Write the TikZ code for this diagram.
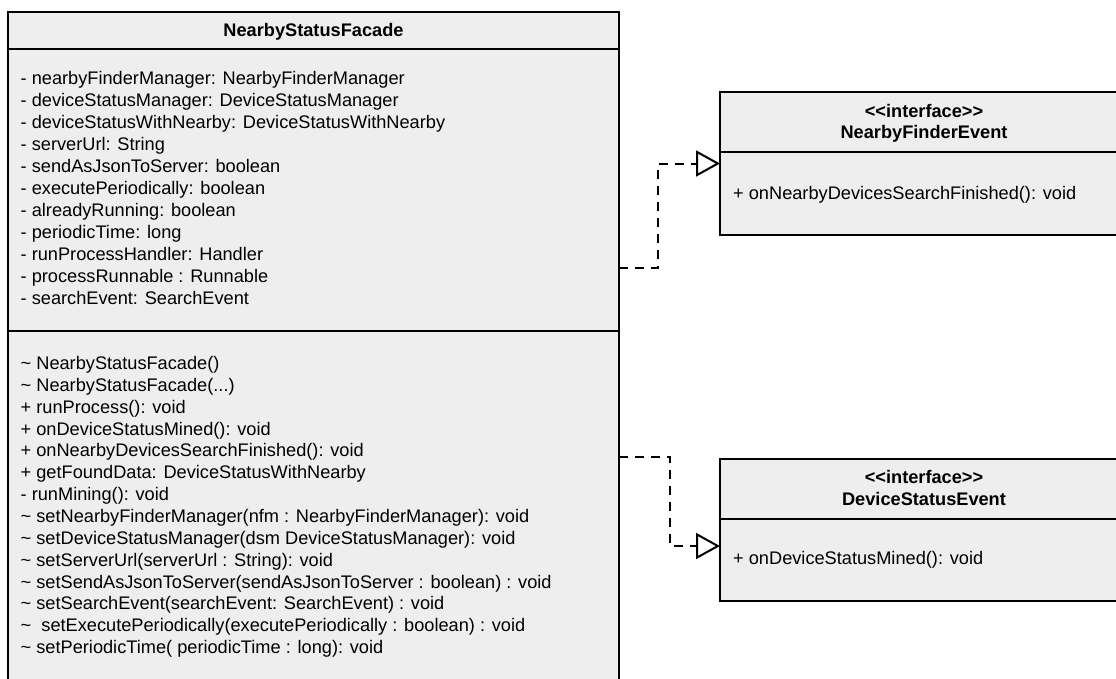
\documentclass[tikz,border=0pt]{standalone}
\usepackage{fontspec}
\setmainfont{Liberation Sans}
\usetikzlibrary{arrows.meta}
\definecolor{boxfill}{HTML}{EEEEEE}
\newcommand\argsdots{...}
\tikzset{
  umlbox/.style={draw=black, fill=boxfill, line width=1.9pt, rectangle,
    inner sep=0pt, outer sep=0pt, anchor=north west},
  member/.style={anchor=base west, inner sep=0pt,
    font=\fontsize{18.2}{22}\selectfont},
  title/.style={anchor=base, inner sep=0pt,
    font=\fontsize{18.2}{22}\selectfont\bfseries},
  divider/.style={draw=black, line width=1.9pt},
  realize/.style={draw=black, line width=2pt, dash pattern=on 9pt off 7pt,
    -{Triangle[open, length=24pt, width=26pt, line width=2pt]}}
}
\begin{document}
\begin{tikzpicture}[x=1pt,y=-1pt]
\useasboundingbox (0,0) rectangle (1116,678);
\clip (0,0) rectangle (1116,678);

% class NearbyStatusFacade
\node[umlbox, minimum width=611pt, minimum height=700pt] (facade) at (8,12) {};
\draw[divider] (facade.west |- 0,49) -- (facade.east |- 0,49);
\draw[divider] (facade.west |- 0,331) -- (facade.east |- 0,331);
\node[title] (facadeName) at (313.5,36) {NearbyStatusFacade};

\foreach \t [count=\i from 0] in {
  {- nearbyFinderManager: NearbyFinderManager},
  {- deviceStatusManager: DeviceStatusManager},
  {- deviceStatusWithNearby: DeviceStatusWithNearby},
  {- serverUrl: String},
  {- sendAsJsonToServer: boolean},
  {- executePeriodically: boolean},
  {- alreadyRunning: boolean},
  {- periodicTime: long},
  {- runProcessHandler: Handler},
  {- processRunnable : Runnable},
  {- searchEvent: SearchEvent}}
  \node[member] (attr\i) at (20.5,{84+22*\i}) {\t};

\foreach \t [count=\i from 0] in {
  {\textasciitilde\ NearbyStatusFacade()},
  {\textasciitilde\ NearbyStatusFacade(\argsdots)},
  {+ runProcess(): void},
  {+ onDeviceStatusMined(): void},
  {+ onNearbyDevicesSearchFinished(): void},
  {+ getFoundData: DeviceStatusWithNearby},
  {- runMining(): void},
  {\textasciitilde\ setNearbyFinderManager(nfm : NearbyFinderManager): void},
  {\textasciitilde\ setDeviceStatusManager(dsm DeviceStatusManager): void},
  {\textasciitilde\ setServerUrl(serverUrl : String): void},
  {\textasciitilde\ setSendAsJsonToServer(sendAsJsonToServer : boolean) : void},
  {\textasciitilde\ setSearchEvent(searchEvent: SearchEvent) : void},
  {\textasciitilde\ \ setExecutePeriodically(executePeriodically : boolean) : void},
  {\textasciitilde\ setPeriodicTime( periodicTime : long): void}}
  \node[member] (op\i) at (20.5,{369.5+21.85*\i}) {\t};

% interface NearbyFinderEvent
\node[umlbox, minimum width=408pt, minimum height=143pt] (finder) at (720,92) {};
\draw[divider] (finder.west |- 0,152) -- (finder.east |- 0,152);
\node[title] (finderStereo) at (924,117.5) {<\kern0pt<interface>\kern0pt>};
\node[title] (finderName) at (924,138.5) {NearbyFinderEvent};
\node[member] (finderOp) at (733,199.5) {+ onNearbyDevicesSearchFinished(): void};

% interface DeviceStatusEvent
\node[umlbox, minimum width=408pt, minimum height=142pt] (devstatus) at (720,459) {};
\draw[divider] (devstatus.west |- 0,519) -- (devstatus.east |- 0,519);
\node[title] (devStereo) at (924,483.5) {<\kern0pt<interface>\kern0pt>};
\node[title] (devName) at (924,505.5) {DeviceStatusEvent};
\node[member] (devOp) at (733,564.5) {+ onDeviceStatusMined(): void};

% realizations
\draw[realize] (facade.east |- 0,268) -- ++(39,0) |- (finder.west);
\draw[realize] (facade.east |- 0,457) -- ++(51,0) |- (devstatus.west |- 0,546);
\end{tikzpicture}
\end{document}
